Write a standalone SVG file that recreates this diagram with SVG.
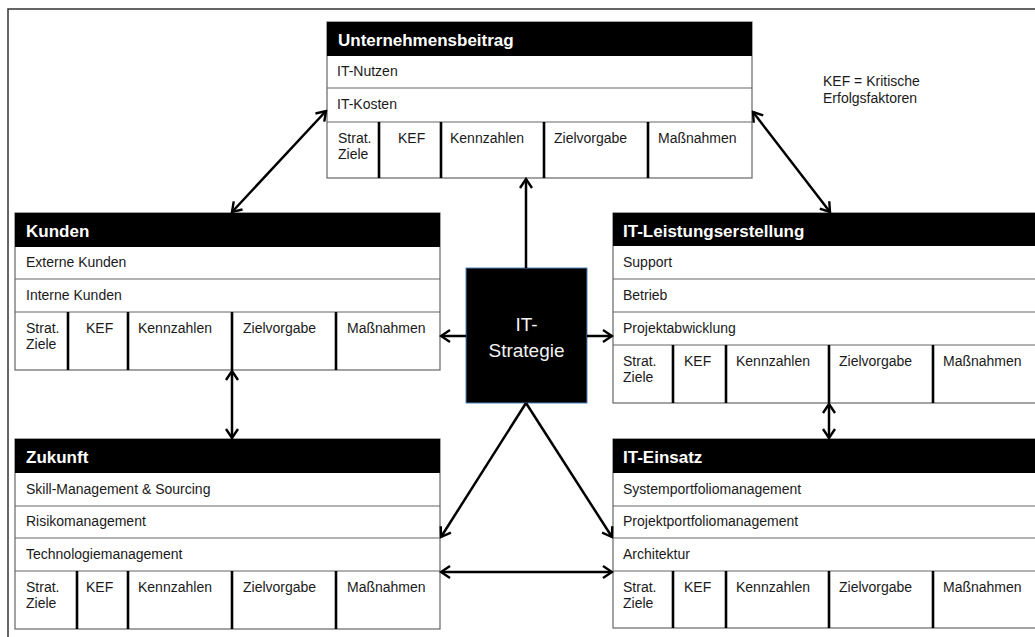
<svg xmlns="http://www.w3.org/2000/svg" width="1035" height="637" viewBox="0 0 1035 637">
  <defs>
    <style>
      .frame { fill: none; stroke: #333; stroke-width: 1.5; }
      .box { fill: #fff; stroke: #666; stroke-width: 1.2; }
      .head { fill: #000; }
      .sep { stroke: #666; stroke-width: 1.2; }
      .col { stroke: #000; stroke-width: 2.6; }
      .ht { font-family: "Liberation Sans", Arial, sans-serif; font-size: 17px; font-weight: bold; fill: #fff; }
      .t { font-family: "Liberation Sans", Arial, sans-serif; font-size: 14px; fill: #1a1a1a; }
      .st { font-family: "Liberation Sans", Arial, sans-serif; font-size: 19px; fill: #f2f2f2; text-anchor: middle; }
      .con { fill: none; stroke: #000; stroke-width: 2.5; }
    </style>
    <marker id="arr" markerUnits="userSpaceOnUse" viewBox="-12 -8 14 16" markerWidth="14" markerHeight="16" refX="0" refY="0" orient="auto-start-reverse">
      <path d="M-9,-6 L0,0 L-9,6" fill="none" stroke="#000" stroke-width="2.4"/>
    </marker>
  </defs>

  <rect width="1035" height="637" fill="#fff"/>
  <!-- page frame (top and left edges) -->
  <path class="frame" d="M8,637 V9 H1035"/>

  <!-- Unternehmensbeitrag -->
  <g id="unternehmensbeitrag">
    <rect class="box" x="327" y="22" width="425" height="156"/>
    <rect class="head" x="327" y="22" width="425" height="34"/>
    <text class="ht" x="338" y="46">Unternehmensbeitrag</text>
    <line class="sep" x1="327" y1="88" x2="752" y2="88"/>
    <line class="sep" x1="327" y1="122" x2="752" y2="122"/>
    <text class="t" x="337" y="76">IT-Nutzen</text>
    <text class="t" x="337" y="109">IT-Kosten</text>
    <line class="col" x1="379" y1="122" x2="379" y2="178"/>
    <line class="col" x1="441" y1="122" x2="441" y2="178"/>
    <line class="col" x1="544" y1="122" x2="544" y2="178"/>
    <line class="col" x1="648" y1="122" x2="648" y2="178"/>
    <text class="t" x="338" y="143">Strat.</text>
    <text class="t" x="338" y="159">Ziele</text>
    <text class="t" x="398" y="143">KEF</text>
    <text class="t" x="450" y="143">Kennzahlen</text>
    <text class="t" x="554" y="143">Zielvorgabe</text>
    <text class="t" x="658" y="143">Maßnahmen</text>
  </g>

  <!-- Kunden -->
  <g id="kunden">
    <rect class="box" x="15" y="213" width="425" height="157"/>
    <rect class="head" x="15" y="213" width="425" height="34"/>
    <text class="ht" x="26" y="237">Kunden</text>
    <line class="sep" x1="15" y1="279" x2="440" y2="279"/>
    <line class="sep" x1="15" y1="312" x2="440" y2="312"/>
    <text class="t" x="26" y="267">Externe Kunden</text>
    <text class="t" x="26" y="300">Interne Kunden</text>
    <line class="col" x1="68" y1="312" x2="68" y2="370"/>
    <line class="col" x1="128" y1="312" x2="128" y2="370"/>
    <line class="col" x1="232" y1="312" x2="232" y2="370"/>
    <line class="col" x1="336" y1="312" x2="336" y2="370"/>
    <text class="t" x="26" y="333">Strat.</text>
    <text class="t" x="26" y="349">Ziele</text>
    <text class="t" x="86" y="333">KEF</text>
    <text class="t" x="138" y="333">Kennzahlen</text>
    <text class="t" x="243" y="333">Zielvorgabe</text>
    <text class="t" x="347" y="333">Maßnahmen</text>
  </g>

  <!-- IT-Leistungserstellung -->
  <g id="it-leistungserstellung">
    <rect class="box" x="613" y="213" width="425" height="190"/>
    <rect class="head" x="613" y="213" width="425" height="33"/>
    <text class="ht" x="623" y="237">IT-Leistungserstellung</text>
    <line class="sep" x1="613" y1="279" x2="1038" y2="279"/>
    <line class="sep" x1="613" y1="312" x2="1038" y2="312"/>
    <line class="sep" x1="613" y1="345" x2="1038" y2="345"/>
    <text class="t" x="623" y="267">Support</text>
    <text class="t" x="623" y="300">Betrieb</text>
    <text class="t" x="623" y="333">Projektabwicklung</text>
    <line class="col" x1="673" y1="345" x2="673" y2="403"/>
    <line class="col" x1="726" y1="345" x2="726" y2="403"/>
    <line class="col" x1="829" y1="345" x2="829" y2="403"/>
    <line class="col" x1="933" y1="345" x2="933" y2="403"/>
    <text class="t" x="623" y="366">Strat.</text>
    <text class="t" x="623" y="382">Ziele</text>
    <text class="t" x="684" y="366">KEF</text>
    <text class="t" x="736" y="366">Kennzahlen</text>
    <text class="t" x="839" y="366">Zielvorgabe</text>
    <text class="t" x="943" y="366">Maßnahmen</text>
  </g>

  <!-- Zukunft -->
  <g id="zukunft">
    <rect class="box" x="15" y="439" width="425" height="190"/>
    <rect class="head" x="15" y="439" width="425" height="34"/>
    <text class="ht" x="26" y="463">Zukunft</text>
    <line class="sep" x1="15" y1="506" x2="440" y2="506"/>
    <line class="sep" x1="15" y1="538" x2="440" y2="538"/>
    <line class="sep" x1="15" y1="571" x2="440" y2="571"/>
    <text class="t" x="26" y="494">Skill-Management &amp; Sourcing</text>
    <text class="t" x="26" y="526">Risikomanagement</text>
    <text class="t" x="26" y="559">Technologiemanagement</text>
    <line class="col" x1="77" y1="571" x2="77" y2="629"/>
    <line class="col" x1="128" y1="571" x2="128" y2="629"/>
    <line class="col" x1="232" y1="571" x2="232" y2="629"/>
    <line class="col" x1="336" y1="571" x2="336" y2="629"/>
    <text class="t" x="26" y="592">Strat.</text>
    <text class="t" x="26" y="608">Ziele</text>
    <text class="t" x="86" y="592">KEF</text>
    <text class="t" x="138" y="592">Kennzahlen</text>
    <text class="t" x="243" y="592">Zielvorgabe</text>
    <text class="t" x="347" y="592">Maßnahmen</text>
  </g>

  <!-- IT-Einsatz -->
  <g id="it-einsatz">
    <rect class="box" x="613" y="439" width="425" height="189"/>
    <rect class="head" x="613" y="439" width="425" height="34"/>
    <text class="ht" x="623" y="463">IT-Einsatz</text>
    <line class="sep" x1="613" y1="506" x2="1038" y2="506"/>
    <line class="sep" x1="613" y1="538" x2="1038" y2="538"/>
    <line class="sep" x1="613" y1="571" x2="1038" y2="571"/>
    <text class="t" x="623" y="494">Systemportfoliomanagement</text>
    <text class="t" x="623" y="526">Projektportfoliomanagement</text>
    <text class="t" x="623" y="559">Architektur</text>
    <line class="col" x1="673" y1="571" x2="673" y2="628"/>
    <line class="col" x1="726" y1="571" x2="726" y2="628"/>
    <line class="col" x1="829" y1="571" x2="829" y2="628"/>
    <line class="col" x1="933" y1="571" x2="933" y2="628"/>
    <text class="t" x="623" y="592">Strat.</text>
    <text class="t" x="623" y="608">Ziele</text>
    <text class="t" x="684" y="592">KEF</text>
    <text class="t" x="736" y="592">Kennzahlen</text>
    <text class="t" x="839" y="592">Zielvorgabe</text>
    <text class="t" x="943" y="592">Maßnahmen</text>
  </g>

  <!-- central strategy node -->
  <g id="it-strategie">
    <rect x="466" y="268" width="121" height="135" fill="#000" stroke="#4f81bd" stroke-width="1"/>
    <text class="st" x="526.5" y="331">IT-</text>
    <text class="st" x="526.5" y="357">Strategie</text>
  </g>

  <!-- legend -->
  <g id="legende">
    <text class="t" x="823" y="86">KEF = Kritische</text>
    <text class="t" x="823" y="103">Erfolgsfaktoren</text>
  </g>

  <!-- connectors -->
  <g id="connectors">
    <line class="con" x1="526" y1="268" x2="526" y2="179" marker-end="url(#arr)"/>
    <line class="con" x1="466" y1="336" x2="441" y2="336" marker-end="url(#arr)"/>
    <line class="con" x1="587" y1="336" x2="612" y2="336" marker-end="url(#arr)"/>
    <line class="con" x1="526" y1="403" x2="441" y2="537" marker-end="url(#arr)"/>
    <line class="con" x1="526" y1="403" x2="612" y2="537" marker-end="url(#arr)"/>
    <line class="con" x1="441" y1="572" x2="612" y2="572" marker-start="url(#arr)" marker-end="url(#arr)"/>
    <line class="con" x1="232" y1="371" x2="232" y2="438" marker-start="url(#arr)" marker-end="url(#arr)"/>
    <line class="con" x1="829" y1="404" x2="829" y2="438" marker-start="url(#arr)" marker-end="url(#arr)"/>
    <line class="con" x1="326" y1="111" x2="232" y2="212" marker-start="url(#arr)" marker-end="url(#arr)"/>
    <line class="con" x1="753" y1="112" x2="830" y2="212" marker-start="url(#arr)" marker-end="url(#arr)"/>
  </g>
</svg>
